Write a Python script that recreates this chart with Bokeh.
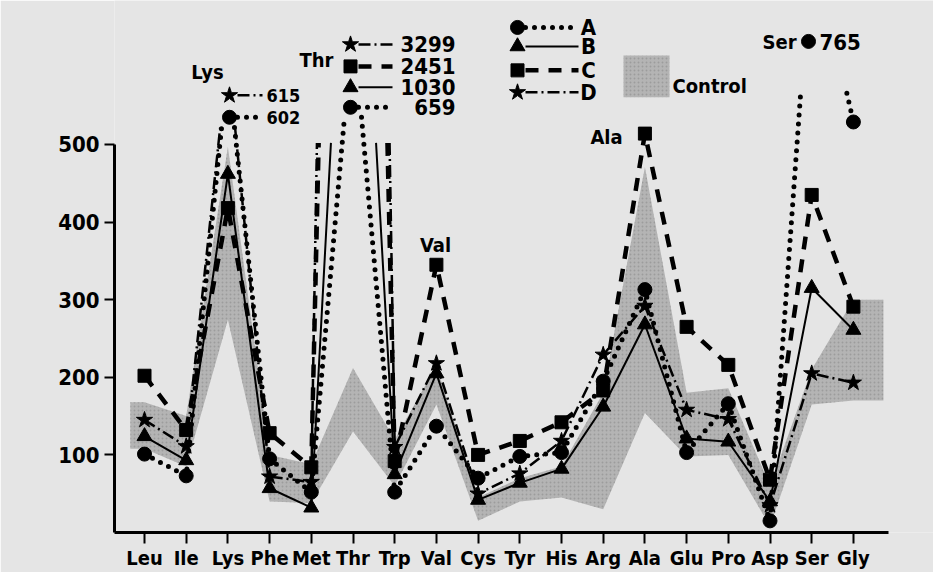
import numpy as np
from bokeh.plotting import figure
from bokeh.models import FixedTicker
from bokeh.embed import file_html
from bokeh.resources import INLINE
from bokeh.core.properties import value

# ---------------- data ----------------
amino = ["Leu", "Ile", "Lys", "Phe", "Met", "Thr", "Trp", "Val", "Cys",
         "Tyr", "His", "Arg", "Ala", "Glu", "Pro", "Asp", "Ser", "Gly"]
A = [101, 73, 602, 95, 52, 659, 52, 137, 70, 98, 103, 195, 313, 103, 166, 15, 765, 529]
B = [124, 93, 462, 57, 32, 1030, 75, 205, 42, 64, 82, 162, 268, 121, 117, 40, 315, 261]
C = [202, 132, 418, 128, 84, 2451, 92, 345, 100, 118, 142, 183, 514, 265, 216, 68, 435, 291]
D = [145, 111, 615, 72, 65, 3299, 110, 218, 50, 76, 118, 229, 292, 158, 146, 35, 205, 193]
control_hi = [168, 150, 497, 100, 88, 212, 120, 215, 45, 70, 85, 180, 471, 180, 186, 60, 210, 300]
control_lo = [108, 85, 274, 40, 38, 130, 60, 165, 15, 40, 45, 30, 154, 98, 100, 8, 165, 170]
y_ticks = [100, 200, 300, 400, 500]
# visible top of the broken scale for off-scale peaks
clip_top = {"Lys": 522, "Thr": 502, "Ser": 566}
clip_top_A = {"Lys": 522, "Thr": 535, "Ser": 566}

# ---------------- geometry helpers ----------------
X0, XS = 144.0, 41.7      # pixel of first category, px per category
Y0, YS = 533.0, 0.7775    # pixel of zero, px per unit
W, H = 933, 572
FONT = "DejaVu Sans Condensed"
WEIGHT = "bold"


def dx(px):
    return (px - X0) / XS


def dy(py):
    return (Y0 - py) / YS


p = figure(width=W, height=H, output_backend="svg", toolbar_location=None,
           x_range=(dx(114), dx(W)), y_range=(0, dy(0)),
           min_border_left=114, min_border_bottom=39, min_border_top=0,
           min_border_right=0)
p.background_fill_color = "#e5e5e5"
p.border_fill_color = "#e5e5e5"
p.outline_line_color = None
p.grid.visible = False

# axes
yax = p.yaxis[0]
yax.ticker = FixedTicker(ticks=y_ticks)
yax.bounds = (0, 500)
yax.axis_line_width = 3
yax.major_tick_line_width = 2
yax.major_tick_out = 10
yax.major_tick_in = 0
yax.minor_tick_line_color = None
yax.major_label_text_font = FONT
yax.major_label_text_font_style = WEIGHT
yax.major_label_text_font_size = "22px"
yax.major_label_standoff = 5
yax.major_label_text_color = "black"

xax = p.xaxis[0]
xax.ticker = FixedTicker(ticks=list(range(len(amino))))
xax.major_label_overrides = {i: n for i, n in enumerate(amino)}
xax.bounds = (dx(114), dx(888))
xax.axis_line_width = 3
xax.major_tick_line_width = 2
xax.major_tick_out = 11
xax.major_tick_in = 0
xax.minor_tick_line_color = None
xax.major_label_text_font = FONT
xax.major_label_text_font_style = WEIGHT
xax.major_label_text_font_size = "20px"
xax.major_label_standoff = 2
xax.major_label_text_color = "black"

# ---------------- control band ----------------
idx = list(range(len(amino)))
bx = [idx[0] - 0.34] + idx + [idx[-1] + 0.72]
bhi = [control_hi[0]] + control_hi + [control_hi[-1]]
blo = [control_lo[0]] + control_lo + [control_lo[-1]]
BAND = "#b4b4b4"
p.varea(x=bx, y1=blo, y2=bhi, fill_color=BAND, fill_alpha=1.0,
        hatch_pattern=".", hatch_color="#8c8c8c", hatch_scale=4, hatch_alpha=0.6)


def clipped_path(vals, caps):
    xs, ys = [], []
    n = len(vals)
    for i in range(n):
        v, c = vals[i], caps[i]
        if v <= c:
            xs.append(i); ys.append(v)
        else:
            if i > 0:
                v0 = vals[i - 1]
                t = (c - v0) / (v - v0)
                xs.append(i - 1 + t); ys.append(c)
            xs.append(np.nan); ys.append(np.nan)
            if i < n - 1:
                v1 = vals[i + 1]
                t = (v - c) / (v - v1)
                xs.append(i + t); ys.append(c)
    return xs, ys


styles = {
    "A": dict(line_width=5, line_dash="0 9", line_cap="round", marker="circle", size=14),
    "B": dict(line_width=2, line_dash="solid", line_cap="butt", marker="triangle", size=15),
    "C": dict(line_width=4.5, line_dash="13 10", line_cap="butt", marker="square", size=13),
    "D": dict(line_width=2.5, line_dash="12 4 2 4", line_cap="butt", marker="star", size=17),
}
series = {"A": A, "B": B, "C": C, "D": D}

for name in ["C", "D", "B", "A"]:
    vals = series[name]
    cmap = clip_top_A if name == "A" else clip_top
    caps = [cmap.get(a, np.inf) for a in amino]
    st = styles[name]
    xs, ys = clipped_path(vals, caps)
    p.line(xs, ys, line_color="black", line_width=st["line_width"],
           line_dash=st["line_dash"], line_cap=st["line_cap"])
    mx = [i for i in idx if vals[i] <= caps[i]]
    my = [vals[i] for i in mx]
    p.scatter(mx, my, marker=st["marker"], size=st["size"], fill_color="black",
              line_color="black")


# ---------------- annotations ----------------
def label(px, py, txt, size="20px", align="center"):
    p.text(x=[dx(px)], y=[dy(py)], text=[txt], text_font=value(FONT),
           text_font_style=WEIGHT,
           text_font_size=size, text_align=align, text_baseline="middle",
           text_color="black")


def key(px, py, name, x_end):
    st = styles[name]
    p.line([dx(px + 8), dx(x_end)], [dy(py), dy(py)], line_color="black",
           line_width=st["line_width"], line_dash=st["line_dash"], line_cap=st["line_cap"])
    p.scatter([dx(px)], [dy(py)], marker=st["marker"], size=st["size"],
              fill_color="black", line_color="black")


# unit
label(61, 62, "μmol", "19px")
p.line([dx(81), dx(101)], [dy(76), dy(55)], line_color="black", line_width=3.5)
label(101, 76, "L", "18px")

# Lys off-scale values
iL = amino.index("Lys")
label(207, 72, "Lys")
key(229, 95, "D", 262)
label(266, 95, str(D[iL]), "18px", "left")
key(229, 117, "A", 262)
label(266, 117, str(A[iL]), "18px", "left")

# Thr off-scale values
iT = amino.index("Thr")
label(316, 60, "Thr")
for py, nm in [(44, "D"), (66, "C"), (87, "B"), (107, "A")]:
    key(350, py, nm, 392 if nm != "A" else 387)
    label(455, py, str(series[nm][iT]), "22px", "right")

label(435, 245, "Val")
label(606, 137, "Ala")

# Ser off-scale value
iS = amino.index("Ser")
label(779, 42, "Ser")
p.scatter([dx(808)], [dy(41)], marker="circle", size=14, fill_color="black", line_color="black")
label(819, 42, str(A[iS]), "22px", "left")

# legend
for py, nm in [(27, "A"), (46, "B"), (70, "C"), (92, "D")]:
    key(517, py, nm, 578)
    label(588, py, nm, "22px")
p.quad(left=[dx(623)], right=[dx(669)], top=[dy(55)], bottom=[dy(97)],
       fill_color=BAND, line_color=None,
       hatch_pattern=".", hatch_color="#8c8c8c", hatch_scale=4, hatch_alpha=0.6)
label(672, 86, "Control", "20px", "left")

open("out.html", "w").write(file_html(p, INLINE))
